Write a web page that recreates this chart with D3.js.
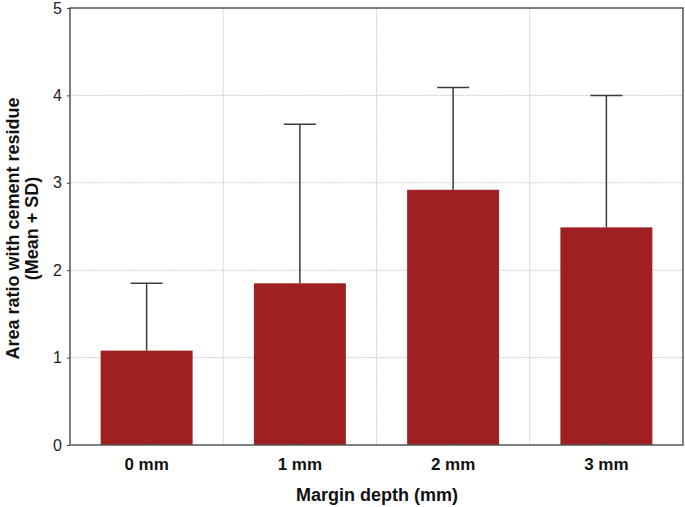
<!DOCTYPE html>
<html><head><meta charset="utf-8">
<script src="https://cdn.jsdelivr.net/npm/d3@7"></script>
<style>body{margin:0;background:#fff}svg{display:block}</style>
</head><body>
<svg id="chart" width="685" height="507"></svg>
<script>
const categories = ["0 mm", "1 mm", "2 mm", "3 mm"];
const means = [1.08, 1.85, 2.92, 2.49];
const upperSD = [1.85, 3.67, 4.09, 4.00];
const yTicks = [0, 1, 2, 3, 4, 5];
const xTitle = "Margin depth (mm)";
const yTitle = ["Area ratio with cement residue", "(Mean + SD)"];

const FONT = "Liberation Sans, Arial, sans-serif";
const svg = d3.select("#chart");
const m = {left: 70, right: 2, top: 8, bottom: 62};
const W = 685, H = 507;
const x = d3.scaleBand().domain(categories).range([m.left, W - m.right]).paddingInner(0.4).paddingOuter(0.2);
const xb = d3.scaleBand().domain(categories).range([m.left, W - m.right]);
const y = d3.scaleLinear().domain([0, 5]).range([H - m.bottom, m.top]);

// grid
const g = svg.append("g");
g.selectAll(".hg").data(yTicks.slice(1, -1)).join("line")
  .attr("x1", m.left).attr("x2", W - m.right)
  .attr("y1", d => y(d)).attr("y2", d => y(d))
  .attr("stroke", "#c8c8c8").attr("stroke-width", 1).attr("stroke-dasharray", "1.5,1");
g.selectAll(".vg").data(categories.slice(1)).join("line")
  .attr("x1", d => xb(d)).attr("x2", d => xb(d))
  .attr("y1", m.top).attr("y2", H - m.bottom)
  .attr("stroke", "#c8c8c8").attr("stroke-width", 1).attr("stroke-dasharray", "1.5,1");

// bars
svg.selectAll(".bar").data(categories).join("rect")
  .attr("x", d => x(d)).attr("width", x.bandwidth())
  .attr("y", (d, i) => y(means[i])).attr("height", (d, i) => y(0) - y(means[i]))
  .attr("fill", "#9e2021");

// error bars
const cx = d => x(d) + x.bandwidth() / 2;
svg.selectAll(".ev").data(categories).join("line")
  .attr("x1", cx).attr("x2", cx)
  .attr("y1", (d, i) => y(means[i])).attr("y2", (d, i) => y(upperSD[i]))
  .attr("stroke", "#3a3a3a").attr("stroke-width", 1.5);
svg.selectAll(".ec").data(categories).join("line")
  .attr("x1", d => cx(d) - 16).attr("x2", d => cx(d) + 16)
  .attr("y1", (d, i) => y(upperSD[i])).attr("y2", (d, i) => y(upperSD[i]))
  .attr("stroke", "#3a3a3a").attr("stroke-width", 1.5);

// axes
const yAxis = svg.append("g").attr("transform", `translate(${m.left},0)`)
  .call(d3.axisLeft(y).tickValues(yTicks).tickSize(3).tickPadding(5).tickFormat(d3.format("d")));
yAxis.select(".domain").remove();
yAxis.selectAll("line").attr("stroke", "#444");
yAxis.selectAll("text").attr("font-family", FONT).attr("font-size", 16).attr("fill", "#222");

const xAxis = svg.append("g").attr("transform", `translate(0,${H - m.bottom})`)
  .call(d3.axisBottom(xb).tickSizeInner(-3).tickSizeOuter(0).tickPadding(13));
xAxis.select(".domain").remove();
xAxis.selectAll("line").attr("stroke", "#444");
xAxis.selectAll("text").attr("font-family", FONT).attr("font-size", 17)
  .attr("font-weight", "bold").attr("fill", "#111");

// frame
svg.append("rect").attr("x", m.left).attr("y", m.top)
  .attr("width", W - m.right - m.left).attr("height", H - m.bottom - m.top)
  .attr("fill", "none").attr("stroke", "#555").attr("stroke-width", 1.5);

// titles
svg.append("text").attr("x", (m.left + W - m.right) / 2 + 0.5).attr("y", 501)
  .attr("text-anchor", "middle").attr("font-family", FONT)
  .attr("font-size", 18).attr("font-weight", "bold").attr("fill", "#111").text(xTitle);
const yt = svg.append("text").attr("transform", `translate(0,${(m.top + H - m.bottom) / 2 + 2}) rotate(-90)`)
  .attr("text-anchor", "middle").attr("font-family", FONT)
  .attr("font-size", 18).attr("font-weight", "bold").attr("fill", "#111");
yt.selectAll("tspan").data(yTitle).join("tspan")
  .attr("x", 0).attr("y", (d, i) => 19 + i * 19).text(d => d);
</script>
</body></html>
